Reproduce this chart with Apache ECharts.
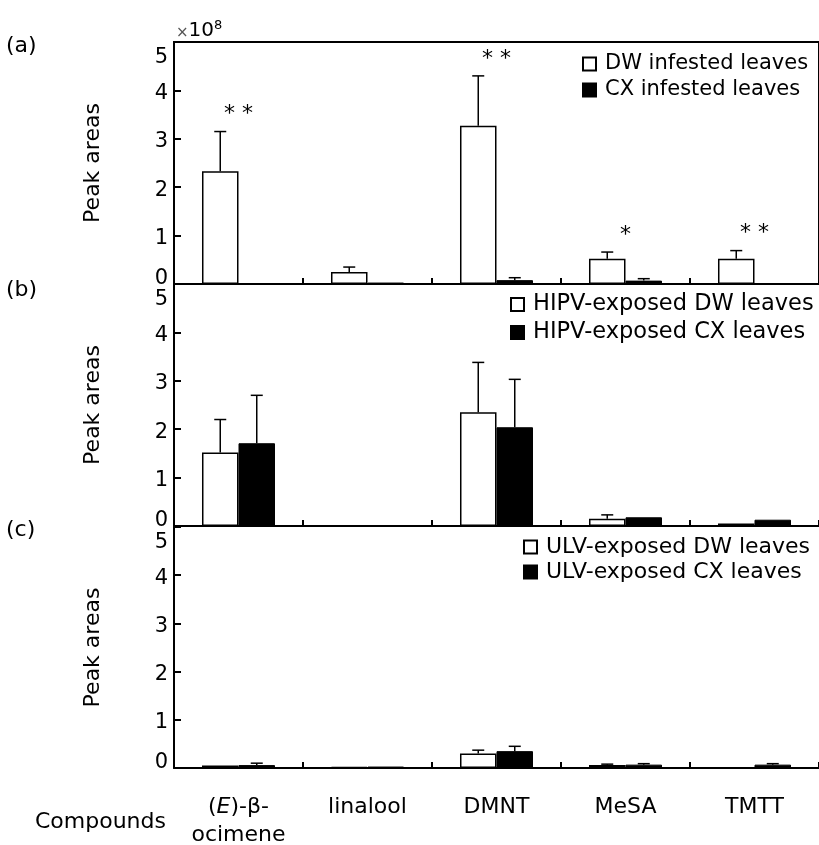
<!DOCTYPE html>
<html>
<head>
<meta charset="utf-8">
<script src="https://cdn.jsdelivr.net/npm/echarts/dist/echarts.min.js"></script>
<style>
  html, body { margin: 0; padding: 0; background: #fff; }
  #main { width: 819px; height: 845px; }
</style>
</head>
<body>
<div id="main"></div>
<script>
// values in units of 1e8 peak area
var categories = ['(E)-β-ocimene', 'linalool', 'DMNT', 'MeSA', 'TMTT'];
var yTicks = [0, 1, 2, 3, 4, 5];

// (a) infested leaves
var dwA = [2.33, 0.25, 3.27, 0.52, 0.52];
var dwErrA = [0.82, 0.10, 1.03, 0.14, 0.17];
var cxA = [0, 0.03, 0.08, 0.07, 0];
var cxErrA = [0, 0, 0.05, 0.04, 0];
var sigA = ['**', '', '**', '*', '**'];

// (b) HIPV-exposed leaves
var dwB = [1.52, 0, 2.35, 0.15, 0.05];
var dwErrB = [0.68, 0, 1.03, 0.08, 0];
var cxB = [1.71, 0, 2.04, 0.18, 0.13];
var cxErrB = [0.99, 0, 0.99, 0, 0];

// (c) ULV-exposed leaves
var dwC = [0.05, 0.02, 0.30, 0.06, 0];
var dwErrC = [0, 0, 0.07, 0.02, 0];
var cxC = [0.06, 0.03, 0.35, 0.07, 0.07];
var cxErrC = [0.04, 0, 0.10, 0.02, 0.02];

var legendA = ['DW infested leaves', 'CX infested leaves'];
var legendB = ['HIPV-exposed DW leaves', 'HIPV-exposed CX leaves'];
var legendC = ['ULV-exposed DW leaves', 'ULV-exposed CX leaves'];
var panelTags = ['(a)', '(b)', '(c)'];

var FONT = 'DejaVu Sans';
var BAR_FRAC = 0.283;
var gridTops = [42, 284, 527];
var gridHeights = [242, 242, 241];
// left, top, itemGap, fontSize
var legendPos = [[582, 53, 4, 21], [510, 293, 5, 22.5], [523, 536, 3, 22]];
var tagTops = [35, 279, 519];

var panels = [
  { dw: dwA, dwErr: dwErrA, cx: cxA, cxErr: cxErrA, names: legendA, sig: sigA },
  { dw: dwB, dwErr: dwErrB, cx: cxB, cxErr: cxErrB, names: legendB, sig: null },
  { dw: dwC, dwErr: dwErrC, cx: cxC, cxErr: cxErrC, names: legendC, sig: null }
];

function errSeries(vals, errs, side, gi) {
  return {
    type: 'custom', xAxisIndex: gi, yAxisIndex: gi, z: 5, silent: true,
    data: vals.map(function (v, i) { return [i, v, errs[i]]; }),
    renderItem: function (params, api) {
      var i = api.value(0), v = api.value(1), e = api.value(2);
      if (!e) return;
      var w = api.size([1, 0])[0] * BAR_FRAC;
      var base = api.coord([i, v]);
      var top = api.coord([i, v + e]);
      var x = base[0] + side * w / 2;
      return {
        type: 'group',
        children: [
          { type: 'line', shape: { x1: x, y1: base[1], x2: x, y2: top[1] }, style: { stroke: '#000', lineWidth: 1.5 } },
          { type: 'line', shape: { x1: x - 6, y1: top[1], x2: x + 6, y2: top[1] }, style: { stroke: '#000', lineWidth: 1.5 } }
        ]
      };
    }
  };
}

function sigSeries(p, gi) {
  return {
    type: 'custom', xAxisIndex: gi, yAxisIndex: gi, z: 6, silent: true,
    data: p.sig.map(function (s, i) {
      return [i, Math.max(p.dw[i] + p.dwErr[i], p.cx[i] + p.cxErr[i])];
    }),
    renderItem: function (params, api) {
      var s = p.sig[params.dataIndex];
      if (!s) return;
      var pt = api.coord([api.value(0), api.value(1)]);
      return {
        type: 'text',
        x: pt[0], y: pt[1] - 17,
        style: {
          text: s.split('').join(' '),
          fontFamily: FONT, fontSize: 22, fill: '#000',
          align: 'center', verticalAlign: 'middle'
        }
      };
    }
  };
}

var grids = [], xAxes = [], yAxes = [], series = [], legends = [], titles = [];

panels.forEach(function (p, gi) {
  grids.push({
    left: 174, top: gridTops[gi], width: 645, height: gridHeights[gi],
    outerBoundsMode: 'none',
    show: gi === 0, borderColor: '#000', borderWidth: 2, backgroundColor: 'transparent'
  });
  xAxes.push({
    type: 'category', gridIndex: gi, data: categories,
    axisLine: { lineStyle: { color: '#000', width: 2 } },
    axisTick: { show: true, alignWithLabel: false, interval: 0, inside: true, length: 6, lineStyle: { color: '#000', width: 2 } },
    axisLabel: {
      show: gi === 2, interval: 0, margin: 25, color: '#000',
      fontFamily: FONT, fontSize: 22, lineHeight: 28, verticalAlign: 'top',
      formatter: function (v) { return v.replace('(E)-β-', '({i|E})-β-\n'); },
      rich: { i: { fontStyle: 'italic', fontFamily: FONT, fontSize: 22, color: '#000', lineHeight: 28 } }
    },
    splitLine: { show: false }
  });
  yAxes.push({
    type: 'value', gridIndex: gi, min: yTicks[0], max: yTicks[yTicks.length - 1], interval: 1,
    name: 'Peak areas', nameLocation: 'middle', nameGap: 70, nameRotate: 90,
    nameTextStyle: { fontFamily: FONT, fontSize: 22, color: '#000' },
    axisLine: { show: true, lineStyle: { color: '#000', width: 2 } },
    axisTick: { show: true, inside: true, length: 7, lineStyle: { color: '#000', width: 2 } },
    axisLabel: {
      margin: 6, color: '#000', fontFamily: FONT, fontSize: 21,
      showMinLabel: true, showMaxLabel: true,
      formatter: function (v) {
        if (v === 5) return '{t|' + v + '}';
        if (v === 0) return '{b|' + v + '}';
        return '{n|' + v + '}';
      },
      rich: {
        t: { fontFamily: FONT, fontSize: 21, color: '#000', padding: [32, 0, 0, 0] },
        b: { fontFamily: FONT, fontSize: 21, color: '#000', padding: [0, 0, 10, 0] },
        n: { fontFamily: FONT, fontSize: 21, color: '#000', padding: [6, 0, 0, 0] }
      }
    },
    splitLine: { show: false }
  });
  series.push({
    name: p.names[0], type: 'bar', xAxisIndex: gi, yAxisIndex: gi,
    data: p.dw, barWidth: (BAR_FRAC * 100) + '%', barGap: '0%',
    itemStyle: { color: '#fff', borderColor: '#000', borderWidth: 1.5 }
  });
  series.push({
    name: p.names[1], type: 'bar', xAxisIndex: gi, yAxisIndex: gi,
    data: p.cx, barWidth: (BAR_FRAC * 100) + '%', barGap: '0%',
    itemStyle: { color: '#000', borderColor: '#000', borderWidth: 1 }
  });
  series.push(errSeries(p.dw, p.dwErr, -1, gi));
  series.push(errSeries(p.cx, p.cxErr, 1, gi));
  if (p.sig) series.push(sigSeries(p, gi));

  legends.push({
    data: p.names, orient: 'vertical',
    left: legendPos[gi][0], top: legendPos[gi][1], itemGap: legendPos[gi][2],
    itemWidth: 13, itemHeight: 13, icon: 'rect', padding: 0,
    textStyle: { fontFamily: FONT, fontSize: legendPos[gi][3], lineHeight: 22, color: '#000', padding: [0, 0, 0, 4] }
  });
  titles.push({
    text: panelTags[gi], left: 6, top: tagTops[gi], padding: 0,
    textStyle: { fontFamily: FONT, fontSize: 22, fontWeight: 'normal', color: '#000' }
  });
});

titles.push({
  text: 'Compounds', left: 35, top: 811, padding: 0,
  textStyle: { fontFamily: FONT, fontSize: 22, fontWeight: 'normal', color: '#000' }
});
// multiplier shown above the top axis
titles.push({
  text: '{m|×}{n|10}{s|8}', left: 176, top: 19, padding: 0,
  textStyle: {
    fontWeight: 'normal',
    rich: {
      m: { fontFamily: FONT, fontSize: 15, fontWeight: 'normal', color: '#555', verticalAlign: 'bottom', lineHeight: 22 },
      n: { fontFamily: FONT, fontSize: 20, fontWeight: 'normal', color: '#000', verticalAlign: 'bottom', lineHeight: 22 },
      s: { fontFamily: FONT, fontSize: 13, fontWeight: 'normal', color: '#000', verticalAlign: 'top', lineHeight: 22, padding: [0, 0, 8, 0] }
    }
  }
});

var chart = echarts.init(document.getElementById('main'), null, { renderer: 'canvas' });
chart.setOption({
  animation: false,
  backgroundColor: '#fff',
  title: titles,
  legend: legends,
  grid: grids,
  xAxis: xAxes,
  yAxis: yAxes,
  series: series
});
</script>
</body>
</html>
